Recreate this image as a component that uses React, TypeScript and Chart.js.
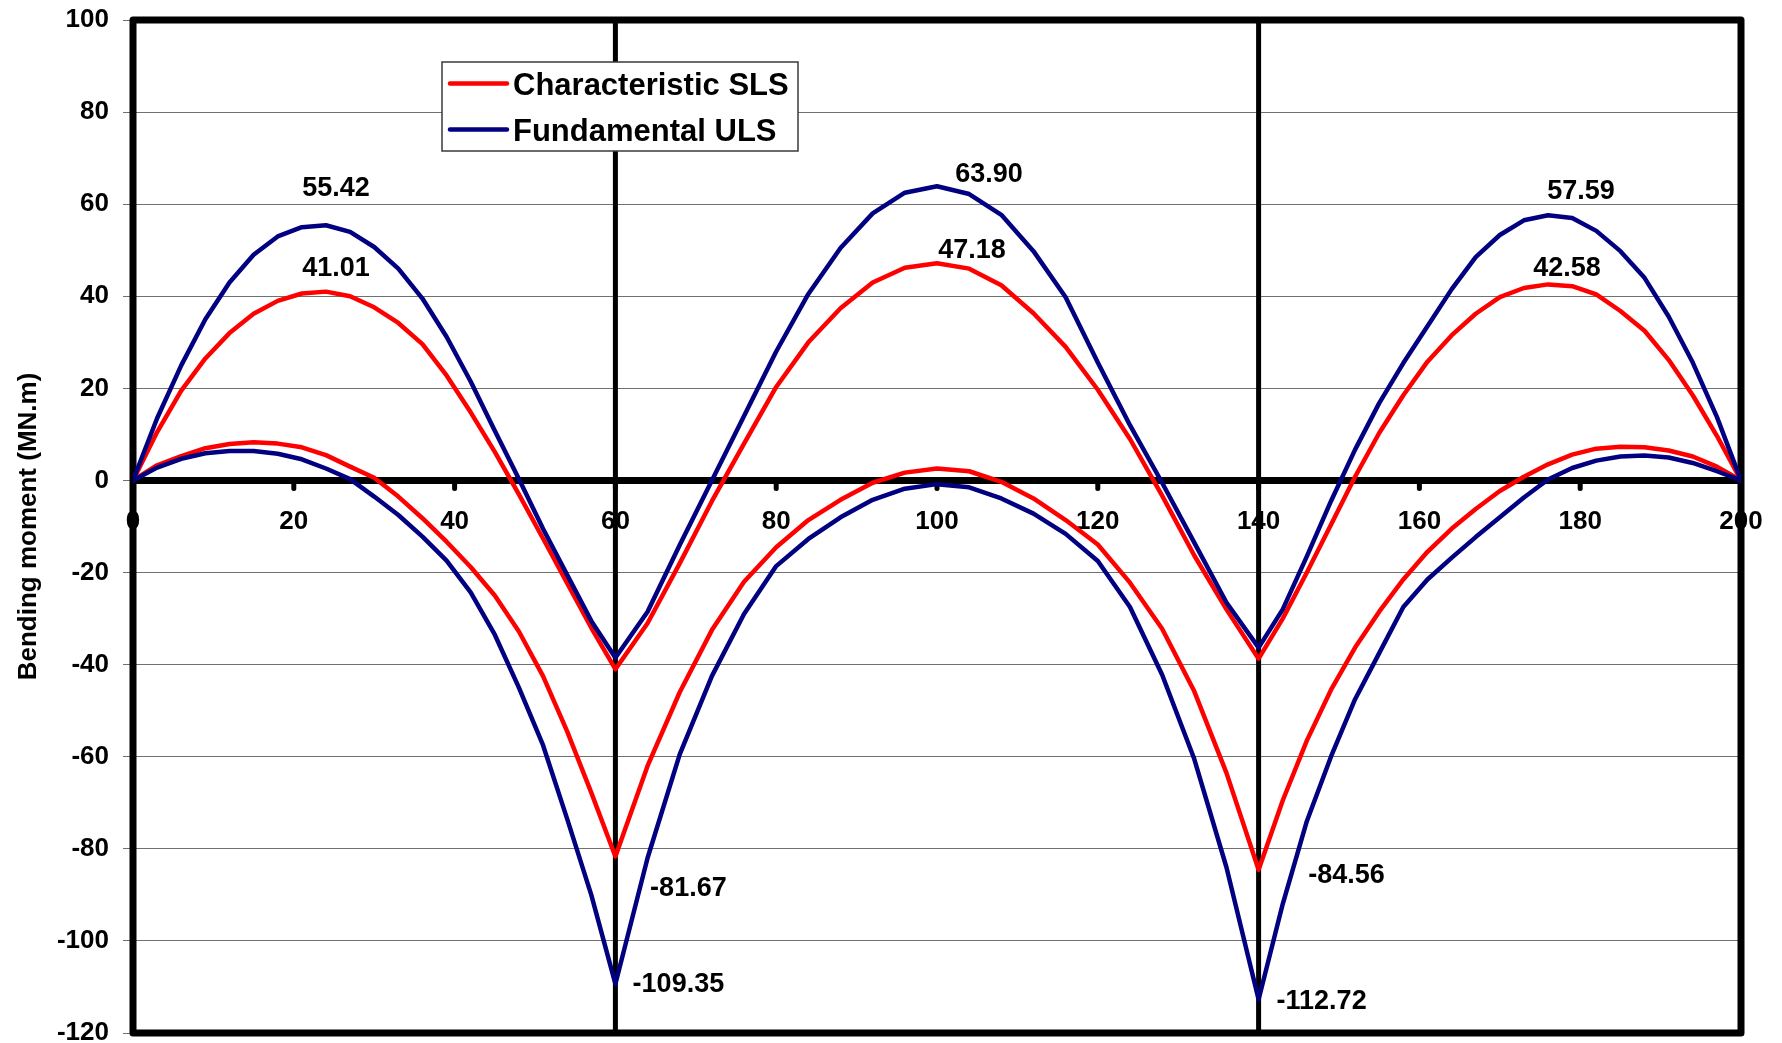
import React, { useEffect, useRef } from 'react';
import { Chart, registerables } from 'chart.js';

Chart.register(...registerables);

const FONT = "'Liberation Sans', Arial, sans-serif";

// Chainage along the beam (m)
const X_POS = [
  0, 3, 6, 9, 12, 15, 18, 21, 24, 27, 30, 33, 36, 39, 42, 45, 48, 51, 54, 57, 60,
  64, 68, 72, 76, 80, 84, 88, 92, 96, 100, 104, 108, 112, 116, 120, 124, 128, 132, 136, 140,
  143, 146, 149, 152, 155, 158, 161, 164, 167, 170, 173, 176, 179, 182, 185, 188, 191, 194, 197, 200,
];

// Fundamental ULS envelope (MN.m)
const ULS_MAX = [
  0, 13.5, 25, 35, 43, 49, 53, 55, 55.42, 54, 50.7, 46, 39.5, 31.2, 21.5, 10.8, 0.3, -10.5, -20.5, -30.5, -38.5,
  -28.5, -14, 0, 14, 28, 40.5, 50.5, 58, 62.5, 63.9, 62.2, 57.7, 49.8, 39.8, 25.6, 12, -0.5, -13.5, -26.5, -36.3,
  -28, -16.5, -4.5, 6.7, 16.8, 25.5, 33.5, 41.5, 48.5, 53.3, 56.5, 57.59, 57, 54.2, 49.8, 44, 35.6, 25.6, 13.8, 0,
];
const ULS_MIN = [
  0, 2.8, 4.7, 5.9, 6.4, 6.4, 5.8, 4.6, 2.6, 0.3, -3.5, -7.5, -12.2, -17.4, -24.3, -33.5, -45, -57.5, -73.5, -90, -109.35,
  -82, -59.5, -42.5, -29, -18.6, -12.7, -8, -4.2, -1.8, -0.8, -1.5, -3.9, -7.2, -11.6, -17.5, -27.5, -42.2, -60.5, -84, -112.72,
  -92, -74, -60, -47.5, -37.5, -27.5, -21.5, -16.8, -12.3, -8, -3.7, 0.2, 2.7, 4.3, 5.2, 5.4, 5, 3.8, 2, 0,
];

// Characteristic SLS envelope (MN.m)
const SLS_MAX = [
  0, 10.5, 19.5, 26.5, 32, 36.2, 39, 40.6, 41.01, 40, 37.6, 34.2, 29.6, 22.8, 14.8, 6.2, -3, -12.6, -22.3, -32, -41,
  -31, -18, -4.5, 8, 20.3, 30, 37.4, 43, 46.2, 47.18, 46, 42.4, 36.3, 29, 19.7, 9, -3.3, -16.3, -28, -38.7,
  -30, -20, -9.6, 0.8, 10.3, 18.5, 25.8, 31.5, 36.2, 39.8, 41.8, 42.58, 42.2, 40.4, 36.8, 32.5, 26.2, 18.5, 9.7, 0,
];
const SLS_MIN = [
  0, 3.3, 5.3, 7, 7.9, 8.3, 8, 7.2, 5.5, 3, 0.6, -3.5, -8.2, -13.3, -18.8, -25, -32.8, -42.5, -54.5, -67.8, -81.67,
  -62, -46, -32.5, -22, -14.5, -8.6, -4.2, -0.5, 1.7, 2.6, 2, -0.3, -3.9, -8.6, -13.9, -22.2, -32.2, -45.8, -63.5, -84.56,
  -69.5, -56.5, -45.5, -36.3, -28.5, -21.5, -15.5, -10.5, -6.2, -2.3, 0.8, 3.5, 5.6, 6.9, 7.3, 7.2, 6.5, 5.2, 3, 0,
];

const SUPPORT_X = [60, 140];

const X_MIN = 0;
const X_MAX = 200;
const X_STEP = 20;
const Y_MIN = -120;
const Y_MAX = 100;
const Y_STEP = 20;

// Value annotations: location (x, value) and pixel offset of the text centre
const LABEL_X = [24, 24, 100, 100, 176, 176, 60, 60, 140, 140];
const LABEL_V = [55.42, 41.01, 63.9, 47.18, 57.59, 42.58, -81.67, -109.35, -84.56, -112.72];
const LABEL_DX = [10, 10, 52, 35, 33, 19, 73, 63, 88, 63];
const LABEL_DY = [-39, -25, -14, -15, -26, -18, 30, -2, 3, 0];

const LEGEND_LABELS = ['Characteristic SLS', 'Fundamental ULS'];
const LEGEND_COLORS = ['#FF0000', '#000080'];
const Y_TITLE = 'Bending moment (MN.m)';

const toPoints = (vals: number[]) => X_POS.map((x, i) => ({ x, y: vals[i] }));

const framePlugin = {
  id: 'frame',
  beforeDatasetsDraw(chart: any) {
    const { ctx, chartArea: a, scales } = chart;
    const x = scales.x;
    const y = scales.y;
    const y0 = y.getPixelForValue(0);
    ctx.save();
    ctx.strokeStyle = '#000';
    // tick stubs under the zero line
    ctx.lineCap = 'round';
    ctx.lineWidth = 5;
    x.ticks.forEach((t: any) => {
      const px = x.getPixelForValue(t.value);
      ctx.beginPath();
      ctx.moveTo(px, y0);
      ctx.lineTo(px, y0 + 8);
      ctx.stroke();
    });
    // support lines
    ctx.lineCap = 'butt';
    ctx.lineWidth = 5;
    SUPPORT_X.forEach((s) => {
      const px = x.getPixelForValue(s);
      ctx.beginPath();
      ctx.moveTo(px, a.top);
      ctx.lineTo(px, a.bottom);
      ctx.stroke();
    });
    // zero line
    ctx.lineWidth = 7;
    ctx.beginPath();
    ctx.moveTo(a.left, y0);
    ctx.lineTo(a.right, y0);
    ctx.stroke();
    // frame
    ctx.lineJoin = 'round';
    ctx.lineWidth = 7;
    ctx.strokeRect(a.left, a.top, a.right - a.left, a.bottom - a.top);
    ctx.restore();
  },
  afterDatasetsDraw(chart: any) {
    const { ctx, scales } = chart;
    const x = scales.x;
    const y = scales.y;
    ctx.save();
    const size = 27;
    ctx.font = `bold ${size}px ${FONT}`;
    ctx.fillStyle = '#000';
    ctx.textAlign = 'center';
    ctx.textBaseline = 'alphabetic';
    LABEL_X.forEach((lx, i) => {
      const px = x.getPixelForValue(lx) + LABEL_DX[i];
      const py = y.getPixelForValue(LABEL_V[i]) + LABEL_DY[i];
      ctx.fillText(LABEL_V[i].toFixed(2), px, py + size * 0.36);
    });
    ctx.restore();
  },
  afterDraw(chart: any) {
    const { ctx } = chart;
    ctx.save();
    const bx = 442, by = 62, bw = 356, bh = 89;
    ctx.fillStyle = '#fff';
    ctx.fillRect(bx, by, bw, bh);
    ctx.strokeStyle = '#3a3a3a';
    ctx.lineWidth = 1.5;
    ctx.strokeRect(bx, by, bw, bh);
    ctx.font = `bold 31px ${FONT}`;
    ctx.textAlign = 'left';
    ctx.textBaseline = 'alphabetic';
    LEGEND_LABELS.forEach((lab, i) => {
      const ly = 83.5 + i * 46;
      ctx.strokeStyle = LEGEND_COLORS[i];
      ctx.lineWidth = 4.5;
      ctx.lineCap = 'round';
      ctx.beginPath();
      ctx.moveTo(450, ly);
      ctx.lineTo(507, ly);
      ctx.stroke();
      ctx.fillStyle = '#000';
      ctx.fillText(lab, 513, ly + 11.5);
    });
    ctx.restore();
  },
};

export default function App() {
  const ref = useRef<HTMLCanvasElement | null>(null);
  useEffect(() => {
    if (!ref.current) return;
    const lineDs = (label: string, vals: number[], color: string) => ({
      label,
      data: toPoints(vals),
      borderColor: color,
      backgroundColor: color,
      borderWidth: 4.5,
      pointRadius: 0,
      tension: 0,
      fill: false,
      borderJoinStyle: 'round' as const,
      borderCapStyle: 'round' as const,
    });
    const chart = new Chart(ref.current, {
      type: 'line',
      data: {
        datasets: [
          lineDs('Fundamental ULS', ULS_MAX, LEGEND_COLORS[1]),
          lineDs('Fundamental ULS min', ULS_MIN, LEGEND_COLORS[1]),
          lineDs('Characteristic SLS', SLS_MAX, LEGEND_COLORS[0]),
          lineDs('Characteristic SLS min', SLS_MIN, LEGEND_COLORS[0]),
        ],
      },
      options: {
        animation: false,
        responsive: false,
        devicePixelRatio: 1,
        layout: { padding: { left: 0, top: 20, right: 41, bottom: 10 } },
        plugins: {
          legend: { display: false },
          tooltip: { enabled: false },
          title: { display: false },
        },
        scales: {
          x: {
            type: 'linear',
            position: { y: 0 } as any,
            min: X_MIN,
            max: X_MAX,
            grid: { display: false, drawTicks: false },
            border: { display: false },
            ticks: {
              stepSize: X_STEP,
              autoSkip: false,
              maxRotation: 0,
              padding: 26,
              color: '#000',
              font: { family: FONT, size: 26, weight: 'bold' },
            },
            afterFit: (s: any) => {
              s.paddingLeft = 0;
              s.paddingRight = 0;
            },
          },
          y: {
            type: 'linear',
            position: 'left',
            min: Y_MIN,
            max: Y_MAX,
            grid: { color: '#707070', lineWidth: 1, drawTicks: true, tickLength: 10 },
            border: { display: false },
            ticks: {
              stepSize: Y_STEP,
              padding: 14,
              color: '#000',
              font: { family: FONT, size: 26, weight: 'bold' },
            },
            title: {
              display: true,
              text: Y_TITLE,
              color: '#000',
              font: { family: FONT, size: 26, weight: 'bold' },
              padding: { top: 13, bottom: 0 },
            },
            afterFit: (s: any) => {
              s.width = 133;
              s.paddingTop = 0;
              s.paddingBottom = 0;
            },
          },
        },
      },
      plugins: [framePlugin],
    });
    return () => chart.destroy();
  }, []);
  return (
    <div style={{ position: 'fixed', left: 0, top: 0, width: 1782, height: 1043, background: '#fff' }}>
      <canvas ref={ref} width={1782} height={1043} style={{ display: 'block' }} />
    </div>
  );
}
